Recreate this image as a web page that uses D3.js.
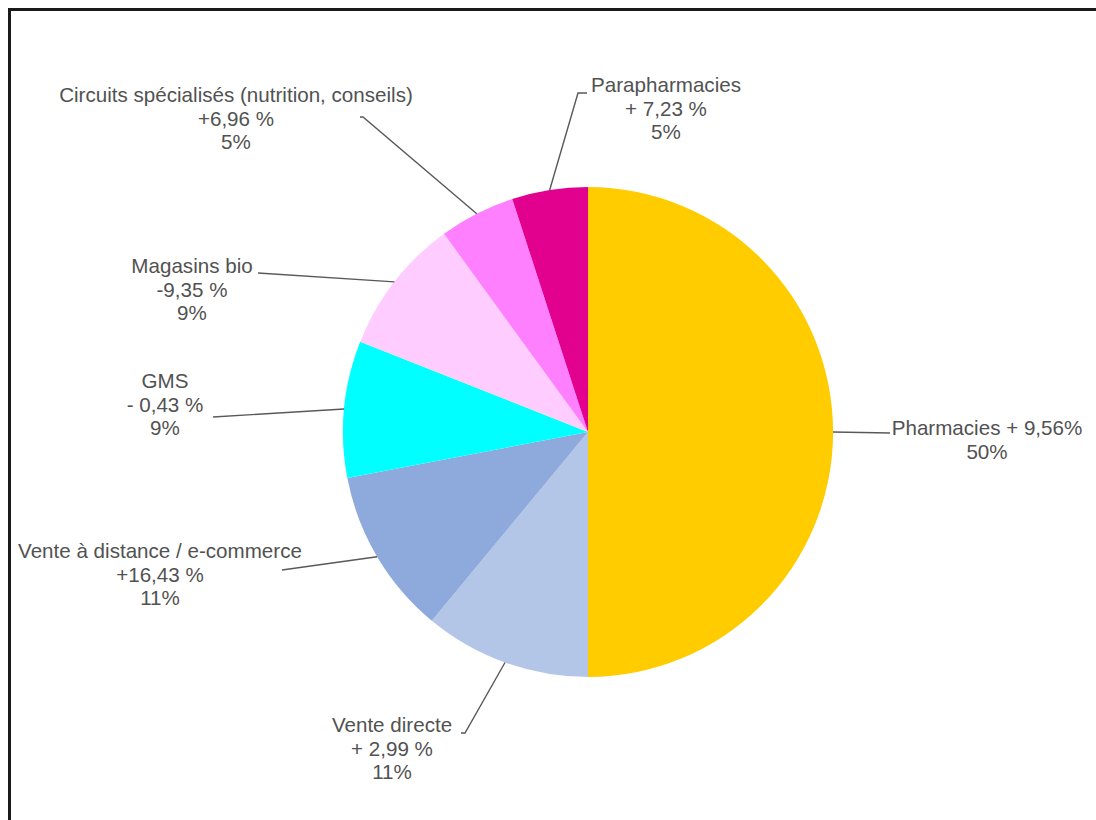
<!DOCTYPE html>
<html>
<head>
<meta charset="utf-8">
<script src="https://cdn.jsdelivr.net/npm/d3@7"></script>
<style>
  html, body { margin: 0; padding: 0; background: #fff; }
  svg { display: block; }
  text { font-family: "Liberation Sans", Arial, sans-serif; font-size: 20.6px; fill: #525252; }
</style>
</head>
<body>
<svg id="chart" width="1096" height="820"></svg>
<script>
// Répartition des ventes par circuit de distribution (part en %, évolution)
const categories = [
  "Pharmacies",
  "Vente directe",
  "Vente à distance / e-commerce",
  "GMS",
  "Magasins bio",
  "Circuits spécialisés (nutrition, conseils)",
  "Parapharmacies"
];
const shares = [50, 11, 11, 9, 9, 5, 5];
const growth = ["+ 9,56%", "+ 2,99 %", "+16,43 %", "- 0,43 %", "-9,35 %", "+6,96 %", "+ 7,23 %"];
const colors = ["#FFCC00", "#B4C6E7", "#8EA9DB", "#00FFFF", "#FFCCFF", "#FF80FF", "#E2008F"];

// Label placement: text centre x, first line y, elbow of the leader line, short tail after it
const labelLayout = [
  { tx: 987, ty: 430, lx: 890, ly: 433, tail: 0, inline: true },
  { tx: 392, ty: 727, lx: 465, ly: 733, tail: -4 },
  { tx: 160, ty: 553, lx: 282, ly: 570, tail: 0 },
  { tx: 165, ty: 383, lx: 213, ly: 417, tail: 0 },
  { tx: 192, ty: 268, lx: 258, ly: 273, tail: 0 },
  { tx: 236, ty: 97,  lx: 363, ly: 117, tail: -3 },
  { tx: 666, ty: 87,  lx: 578, ly: 93,  tail: 9 }
];

const svg = d3.select("#chart");
const W = 1096, H = 820;
const cx = 588, cy = 432, R = 245;

// Frame
svg.append("path")
  .attr("d", `M9.5,${H + 10} L9.5,9.5 L${W + 10},9.5`)
  .attr("fill", "none")
  .attr("stroke", "#1a1a1a")
  .attr("stroke-width", 3);

const data = categories.map((c, i) => ({ name: c, share: shares[i], growth: growth[i], color: colors[i], layout: labelLayout[i] }));

const pie = d3.pie().value(d => d.share).sort(null);
const arc = d3.arc().innerRadius(0).outerRadius(R);

const g = svg.append("g").attr("transform", `translate(${cx},${cy})`);
const arcs = pie(data);

g.selectAll("path.slice")
  .data(arcs)
  .join("path")
  .attr("class", "slice")
  .attr("d", arc)
  .attr("fill", d => d.data.color);

// Leader lines from the slice edge to the label
g.selectAll("path.leader")
  .data(arcs)
  .join("path")
  .attr("class", "leader")
  .attr("fill", "none")
  .attr("stroke", "#595959")
  .attr("stroke-width", 1.4)
  .attr("d", d => {
    const mid = (d.startAngle + d.endAngle) / 2;
    const p = [Math.sin(mid) * R, -Math.cos(mid) * R];
    const L = d.data.layout;
    const ex = L.lx - cx, ey = L.ly - cy;
    let path = `M${p[0]},${p[1]} L${ex},${ey}`;
    if (L.tail) path += ` l${L.tail},0`;
    return path;
  });

// Labels
const labels = svg.selectAll("text.label")
  .data(arcs)
  .join("text")
  .attr("class", "label")
  .attr("text-anchor", "middle")
  .attr("x", d => d.data.layout.tx)
  .attr("y", d => d.data.layout.ty)
  .attr("dominant-baseline", "middle");

labels.each(function(d) {
  const t = d3.select(this);
  const L = d.data.layout;
  const lines = L.inline
    ? [d.data.name + " " + d.data.growth, d.data.share + "%"]
    : [d.data.name, d.data.growth, d.data.share + "%"];
  lines.forEach((s, i) => {
    t.append("tspan")
      .attr("x", L.tx)
      .attr("y", L.ty + i * 23.5)
      .text(s);
  });
});
</script>
</body>
</html>
